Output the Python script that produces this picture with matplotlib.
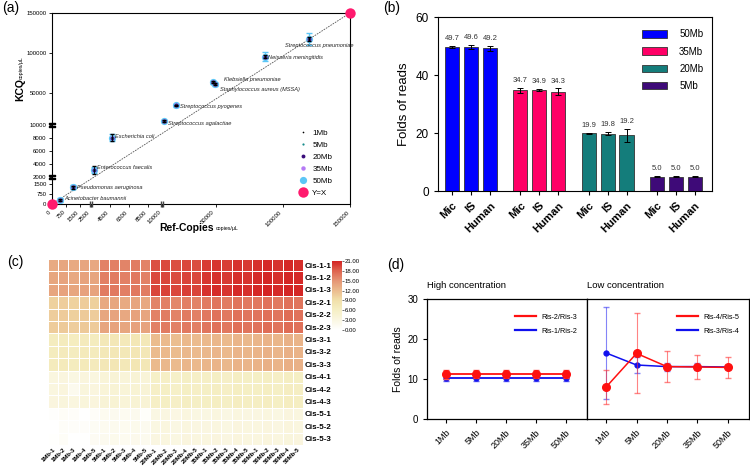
import numpy as np
import matplotlib
matplotlib.use('Agg')
import matplotlib.pyplot as plt
from matplotlib.colors import LinearSegmentedColormap
from matplotlib.lines import Line2D
from matplotlib.patches import Patch
from matplotlib.scale import FuncScale

plt.rcParams['font.family'] = ['Liberation Sans', 'DejaVu Sans']

# ---------------- data (a) ----------------
species = ['Acinetobacter baumannii', 'Pseudomonas aeruginosa', 'Enterococcus faecalis',
           'Escherichia coli', 'Streptococcus agalactiae', 'Streptococcus pyogenes',
           'Klebsiella pneumoniae', 'Staphylococcus aureus (MSSA)',
           'Neisseria meningitidis', 'Streptococcus pneumoniae']
ref_copies = [430, 1140, 2850, 4750, 11500, 20200, 47800, 49400, 86700, 119700]
kcq_copies = [300, 1250, 3080, 8050, 15000, 34600, 63400, 60900, 95400, 117500]
kcq_err_50mb = [150, 150, 400, 500, 1500, 1500, 2000, 2000, 5800, 7500]
kcq_err_1mb = [100, 120, 660, 570, 800, 900, 1200, 1200, 2000, 2500]
conc_a = ['1Mb', '5Mb', '20Mb', '35Mb', '50Mb']
x_ticks_a = [0, 750, 1500, 2500, 4500, 6500, 8500, 10000, 50000, 100000, 150000]
y_ticks_a = [0, 750, 1500, 2000, 4000, 6000, 8000, 10000, 50000, 100000, 150000]

# ---------------- data (b) ----------------
groups_b = ['50Mb', '35Mb', '20Mb', '5Mb']
cats_b = ['Mic', 'IS', 'Human']
vals_b = [[49.7, 49.6, 49.2], [34.7, 34.9, 34.3], [19.9, 19.8, 19.2], [5.0, 5.0, 5.0]]
errs_b = [[0.4, 0.8, 0.9], [0.8, 0.4, 1.1], [0.2, 0.5, 2.2], [0.1, 0.1, 0.1]]
colors_b = ['#0000FF', '#FF0066', '#147D7B', '#3E0A78']

# ---------------- data (c) ----------------
rows_c = ['Cis-1-1', 'Cis-1-2', 'Cis-1-3', 'Cis-2-1', 'Cis-2-2', 'Cis-2-3',
          'Cis-3-1', 'Cis-3-2', 'Cis-3-3', 'Cis-4-1', 'Cis-4-2', 'Cis-4-3',
          'Cis-5-1', 'Cis-5-2', 'Cis-5-3']
cols_c = ['1Mb-1', '1Mb-2', '1Mb-3', '1Mb-4', '1Mb-5',
          '5Mb-1', '5Mb-2', '5Mb-3', '5Mb-4', '5Mb-5',
          '20Mb-1', '20Mb-2', '20Mb-3', '20Mb-4', '20Mb-5',
          '35Mb-1', '35Mb-2', '35Mb-3', '35Mb-4', '35Mb-5',
          '50Mb-1', '50Mb-2', '50Mb-3', '50Mb-4', '50Mb-5']
heat_c = [
    [13.4, 13.7, 13.5, 13.8, 13.6, 16.2, 16.4, 16.0, 16.5, 16.1, 18.9, 19.2, 19.0, 19.3, 19.1, 19.9, 20.2, 19.8, 20.3, 20.0, 20.4, 20.7, 20.3, 20.8, 20.5],
    [13.7, 13.9, 13.6, 14.0, 13.8, 16.4, 16.6, 16.3, 16.7, 16.2, 19.2, 19.4, 19.1, 19.5, 19.3, 20.1, 20.4, 20.0, 20.5, 20.2, 20.6, 20.9, 20.5, 20.9, 20.7],
    [13.8, 14.0, 13.7, 14.1, 13.9, 16.6, 16.7, 16.4, 16.8, 16.5, 19.4, 19.6, 19.3, 19.7, 19.5, 20.3, 20.6, 20.2, 20.7, 20.4, 20.8, 21.0, 20.7, 21.0, 20.9],
    [10.3, 10.5, 10.2, 10.6, 10.4, 13.5, 13.7, 13.4, 13.8, 13.6, 16.0, 16.3, 15.9, 16.4, 16.1, 16.6, 16.9, 16.5, 17.0, 16.7, 16.8, 17.1, 16.7, 17.2, 16.9],
    [10.5, 10.7, 10.4, 10.8, 10.6, 13.7, 13.9, 13.6, 14.0, 13.8, 16.2, 16.5, 16.1, 16.6, 16.3, 16.8, 17.1, 16.7, 17.2, 16.9, 17.0, 17.3, 16.9, 17.4, 17.1],
    [10.6, 10.8, 10.5, 10.9, 10.7, 13.8, 14.0, 13.7, 14.1, 13.9, 16.3, 16.6, 16.2, 16.7, 16.4, 16.9, 17.2, 16.8, 17.3, 17.0, 17.1, 17.4, 17.0, 17.5, 17.2],
    [6.7, 6.9, 6.6, 7.0, 6.8, 7.4, 7.6, 7.3, 7.7, 7.5, 11.9, 12.1, 11.8, 12.2, 12.0, 12.2, 12.4, 12.1, 12.5, 12.3, 12.5, 12.7, 12.4, 12.8, 12.6],
    [6.8, 7.0, 6.7, 7.1, 6.9, 7.5, 7.7, 7.4, 7.8, 7.6, 12.0, 12.2, 11.9, 12.3, 12.1, 12.3, 12.5, 12.2, 12.6, 12.4, 12.6, 12.8, 12.5, 12.9, 12.7],
    [6.9, 7.1, 6.8, 7.2, 7.0, 7.6, 7.8, 7.5, 7.9, 7.7, 12.1, 12.3, 12.0, 12.4, 12.2, 12.4, 12.6, 12.3, 12.7, 12.5, 12.7, 12.9, 12.6, 13.0, 12.8],
    [3.2, 3.4, 3.0, 3.5, 3.3, 4.0, 4.2, 3.9, 4.3, 4.1, 5.7, 5.9, 5.6, 6.0, 5.8, 5.9, 6.1, 5.8, 6.2, 6.0, 6.0, 6.2, 5.9, 6.3, 6.1],
    [3.3, 3.5, 1.8, 3.6, 3.4, 4.1, 4.3, 4.0, 4.4, 4.2, 5.8, 6.0, 5.7, 6.1, 5.9, 6.0, 6.2, 5.9, 6.3, 6.1, 6.1, 6.3, 6.0, 6.4, 6.2],
    [3.4, 3.6, 3.2, 3.7, 3.5, 4.2, 4.4, 4.1, 4.5, 4.3, 5.9, 6.1, 5.8, 6.2, 6.0, 6.1, 6.3, 6.0, 6.4, 6.2, 6.2, 6.4, 6.1, 6.5, 6.3],
    [0.4, 0.9, 0.7, 0.0, 0.8, 1.5, 1.7, 1.4, 1.8, 0.5, 2.9, 3.1, 2.8, 3.2, 3.0, 3.0, 3.2, 2.9, 3.3, 3.1, 3.1, 3.3, 3.0, 3.4, 3.2],
    [0.0, 0.8, 0.6, 0.7, 1.2, 1.6, 1.8, 1.5, 1.9, 1.7, 3.0, 3.2, 2.9, 3.3, 3.1, 3.1, 3.3, 3.0, 3.4, 3.2, 3.2, 3.4, 3.1, 3.5, 3.3],
    [0.2, 0.9, 0.0, 0.1, 1.3, 1.7, 1.9, 1.6, 2.0, 1.8, 3.1, 3.3, 3.0, 3.4, 3.2, 3.2, 3.4, 3.1, 3.5, 3.3, 3.3, 3.5, 3.2, 3.6, 3.4],
]

# ---------------- data (d) ----------------
conc_d = ['1Mb', '5Mb', '20Mb', '35Mb', '50Mb']
high_red = [11.2, 11.2, 11.2, 11.2, 11.2]
high_red_err = [1.1, 1.0, 1.0, 1.0, 1.0]
high_blue = [10.2, 10.2, 10.2, 10.2, 10.2]
high_blue_err = [0.6, 0.6, 0.6, 0.6, 0.6]
low_red = [8.0, 16.4, 13.1, 13.0, 12.9]
low_red_err = [4.2, 10.0, 3.8, 3.1, 2.6]
low_blue = [16.5, 13.5, 13.1, 13.1, 13.0]
low_blue_err = [11.4, 2.0, 1.0, 0.8, 0.6]

W, H = 750, 468
fig = plt.figure(figsize=(7.5, 4.68), dpi=100)


def ax_px(l, t, r, b):
    return fig.add_axes([l / W, 1 - b / H, (r - l) / W, (b - t) / H])


# ================= panel (a) =================
ax = ax_px(52, 13, 350, 204)
xd = [-150000, 0, 750, 1500, 2500, 10000, 150000, 300000]
xp = [-298, 0, 14, 28, 39, 110, 298, 500]
yd = [-150000, 0, 750, 1500, 2000, 10000, 150000, 300000]
yp = [-191, 0, 10, 20, 27, 79, 191, 311]
ax.set_xscale(FuncScale(ax, (lambda v: np.interp(v, xd, xp), lambda v: np.interp(v, xp, xd))))
ax.set_yscale(FuncScale(ax, (lambda v: np.interp(v, yd, yp), lambda v: np.interp(v, yp, yd))))
ax.set_xlim(0, 150000)
ax.set_ylim(0, 150000)
ax.plot([0, 150000], [0, 150000], color='#555555', lw=0.6, ls=(0, (2, 1.2)), zorder=1)

styles_a = {'1Mb': dict(color='black', ms=1.2),
            '5Mb': dict(color='#178C8C', ms=1.6),
            '20Mb': dict(color='#3A0C7A', ms=2.8),
            '35Mb': dict(color='#B57AF5', ms=3.2),
            '50Mb': dict(color='#5CC6F6', ms=5.2)}
order = ['50Mb', '35Mb', '20Mb', '5Mb', '1Mb']
ax.errorbar(ref_copies, kcq_copies, yerr=kcq_err_50mb, fmt='none', ecolor='#5CC6F6',
            elinewidth=1.0, capsize=2.5, zorder=2)
for k, c in enumerate(order):
    st = styles_a[c]
    ax.plot(ref_copies, kcq_copies, 'o', color=st['color'], ms=st['ms'], mew=0, zorder=3 + k)
ax.errorbar(ref_copies, kcq_copies, yerr=kcq_err_1mb, fmt='none', ecolor='black',
            elinewidth=0.6, capsize=1.2, zorder=9)
ax.plot([0, 150000], [0, 150000], 'o', color='#FF1A6E', ms=7.5, mew=0, zorder=10, clip_on=False)

label_off = [(4, 1), (4, 0), (3, 2), (3, 1), (4, -3), (4, -1), (11, 3), (5, -5), (3, -1), (-24, -6)]
for s, xv, yv, off in zip(species, ref_copies, kcq_copies, label_off):
    ax.annotate(s, (xv, yv), xytext=off, textcoords='offset pixels', fontsize=4.1,
                style='italic', ha='left', va='center', color='#222222', zorder=11)

ax.set_xticks(x_ticks_a)
ax.set_xticklabels([str(v) for v in x_ticks_a], rotation=45, ha='right', fontsize=4.3)
ax.set_yticks(y_ticks_a)
ax.set_yticklabels([str(v) for v in y_ticks_a], fontsize=4.3)
ax.tick_params(length=2.5, width=0.6, pad=1.5)
for sp in ax.spines.values():
    sp.set_linewidth(0.8)
# axis breaks
for yb in [2000, 10000]:
    ax.plot([0], [yb], marker='$=$', ms=5, color='k', clip_on=False, zorder=12,
            transform=ax.get_yaxis_transform())
for xb in [2500, 10000]:
    ax.plot([xb], [0], marker='$||$', ms=4, color='#444444', clip_on=False, zorder=12,
            transform=ax.get_xaxis_transform())

leg_handles = [Line2D([], [], ls='none', marker='o', color=styles_a[c]['color'],
                      ms=styles_a[c]['ms'], mew=0) for c in conc_a]
leg_handles.append(Line2D([], [], ls='none', marker='o', color='#FF1A6E', ms=7.5, mew=0))
ax.legend(leg_handles, conc_a + ['Y=X'], loc='upper left', frameon=False, fontsize=5.8,
          bbox_to_anchor=(293 / W, 1 - 125 / H), bbox_transform=fig.transFigure,
          labelspacing=0.55, handletextpad=0.3, borderpad=0, handlelength=1.6)

fig.text(20 / W, 1 - 90 / H, 'KCQ', rotation=90, fontsize=7.5, fontweight='bold',
         ha='center', va='center')
fig.text(21 / W, 1 - 68 / H, 'copies/μL', rotation=90, fontsize=3.8, ha='center', va='center')
fig.text(186 / W, 1 - 228 / H, 'Ref-Copies', fontsize=7.5, fontweight='bold', ha='center', va='center')
fig.text(227 / W, 1 - 228 / H, 'copies/μL', fontsize=3.8, ha='center', va='center')

# ================= panel (b) =================
axb = ax_px(438, 17, 712, 191)
pos = []
for g in range(4):
    for j in range(3):
        pos.append(g * 3.6 + j)
k = 0
for g in range(4):
    for j in range(3):
        axb.bar(pos[k], vals_b[g][j], width=0.75, color=colors_b[g], edgecolor='#333333',
                linewidth=0.6, zorder=2)
        axb.errorbar(pos[k], vals_b[g][j], yerr=errs_b[g][j], fmt='none', ecolor='black',
                     elinewidth=0.7, capsize=2.5, capthick=0.7, zorder=3)
        axb.text(pos[k], vals_b[g][j] + errs_b[g][j] + 1.3, f'{vals_b[g][j]:.1f}',
                 ha='center', va='bottom', fontsize=5.5, color='#333333')
        k += 1
axb.set_xlim(-0.74, 13.7)
axb.set_ylim(0, 60)
axb.set_yticks([0, 20, 40, 60])
axb.set_xticks(pos)
axb.set_xticklabels(cats_b * 4, rotation=45, ha='right', rotation_mode='anchor',
                    fontsize=8, fontweight='bold')
axb.tick_params(axis='y', labelsize=8.5, length=3, width=0.8)
axb.tick_params(axis='x', length=3, width=0.8)
axb.set_ylabel('Folds of reads', fontsize=9.5, labelpad=4)
for sp in axb.spines.values():
    sp.set_linewidth(0.8)
axb.legend([Patch(facecolor=c, edgecolor='#333333', linewidth=0.6) for c in colors_b], groups_b,
           loc='upper right', frameon=False, fontsize=7, handlelength=2.6, handleheight=0.8,
           labelspacing=0.75, bbox_to_anchor=(1.0, 0.98), handletextpad=1.2)

# ================= panel (c) =================
axc = ax_px(48, 259, 303, 445)
cmap = LinearSegmentedColormap.from_list('cis', [
    (0.0, '#FFFFFF'), (0.15, '#FAF6E0'), (0.30, '#F5EEC2'), (0.43, '#F1E0AA'),
    (0.57, '#EBBC8E'), (0.71, '#E59776'), (0.86, '#DE634F'), (1.0, '#D42424')])
mesh = axc.pcolormesh(np.array(heat_c), cmap=cmap, vmin=0, vmax=21, edgecolors='white',
                      linewidth=0.6)
axc.set_xlim(0, len(cols_c))
axc.set_ylim(len(rows_c), 0)
axc.set_xticks(np.arange(len(cols_c)) + 0.5)
axc.set_xticklabels(cols_c, rotation=45, ha='right', rotation_mode='anchor', fontsize=4.3,
                    fontweight='bold')
axc.yaxis.tick_right()
axc.set_yticks(np.arange(len(rows_c)) + 0.5)
axc.set_yticklabels(rows_c, fontsize=5.8, fontweight='bold')
axc.tick_params(length=0, pad=1.5)
for sp in axc.spines.values():
    sp.set_visible(False)

cax = ax_px(332, 261, 342, 330)
cb = fig.colorbar(mesh, cax=cax, ticks=np.arange(0, 22, 3))
cb.outline.set_visible(False)
cb.ax.set_yticklabels([f'{v:.2f}' for v in np.arange(0, 22, 3)])
cb.ax.tick_params(labelsize=4.3, length=1.5, width=0.4, pad=0.5)

# ================= panel (d) =================
axL = ax_px(427, 299, 587, 419)
axR = ax_px(587, 299, 749, 419)
xs = np.arange(len(conc_d))
axL.errorbar(xs, high_blue, yerr=high_blue_err, color='#1010EE', lw=1.3, marker='o', ms=3.5,
             capsize=2.5, elinewidth=0.8, ecolor='#5A5AF5', label='Ris-1/Ris-2', zorder=2)
axL.errorbar(xs, high_red, yerr=high_red_err, color='#FF1010', lw=1.3, marker='o', ms=5.5,
             capsize=2.5, elinewidth=0.8, ecolor='#FF5050', label='Ris-2/Ris-3', zorder=3)
axR.errorbar(xs, low_blue, yerr=low_blue_err, color='#1010EE', lw=1.1, marker='o', ms=3.5,
             capsize=2.5, elinewidth=0.8, ecolor=(0.2, 0.2, 0.95, 0.6), label='Ris-3/Ris-4', zorder=2)
axR.errorbar(xs, low_red, yerr=low_red_err, color='#FF1010', lw=1.1, marker='o', ms=5.5,
             capsize=2.5, elinewidth=0.8, ecolor=(1, 0.2, 0.2, 0.6), label='Ris-4/Ris-5', zorder=3)
for a in (axL, axR):
    a.set_xlim(-0.63, 4.7)
    a.set_ylim(0, 30)
    a.set_xticks(xs)
    a.set_xticklabels(conc_d, rotation=45, ha='right', rotation_mode='anchor', fontsize=6.5)
    a.tick_params(length=3, width=0.8, labelsize=6.5)
    for sp in a.spines.values():
        sp.set_linewidth(0.9)
    h, l = a.get_legend_handles_labels()
    a.legend([Line2D([], [], color='#FF1010', lw=1.6), Line2D([], [], color='#1010EE', lw=1.6)],
             [l[1], l[0]], loc='upper right', frameon=False, fontsize=5.2,
             handlelength=2.8, labelspacing=0.9, bbox_to_anchor=(0.98, 0.93))
axL.set_yticks([0, 10, 20, 30])
axL.tick_params(axis='y', labelsize=7)
axL.set_ylabel('Folds of reads', fontsize=7.5, labelpad=3)
axR.set_yticks([])
axL.set_title('High concentration', fontsize=6.8, loc='left', pad=8, x=0.0)
axR.set_title('Low concentration', fontsize=6.8, loc='left', pad=8, x=0.0)

# panel letters
fig.text(2 / W, 1 - 8 / H, '(a)', fontsize=10, va='center')
fig.text(383 / W, 1 - 8 / H, '(b)', fontsize=10, va='center')
fig.text(7 / W, 1 - 262 / H, '(c)', fontsize=10, va='center')
fig.text(387 / W, 1 - 265 / H, '(d)', fontsize=10, va='center')

fig.savefig('out.png', dpi=100)
